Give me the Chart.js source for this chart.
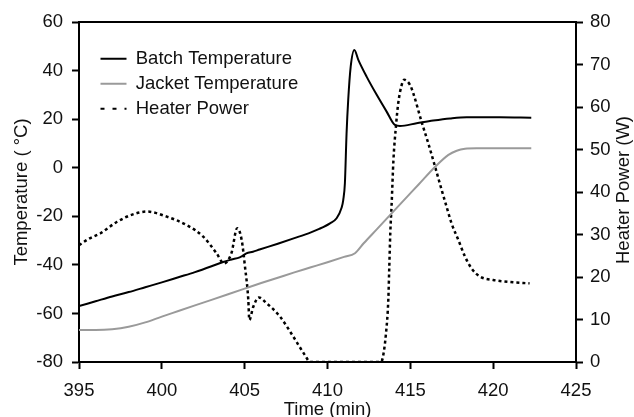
<!DOCTYPE html>
<html>
<head>
<meta charset="utf-8">
<script src="https://cdn.jsdelivr.net/npm/chart.js@4.4.0/dist/chart.umd.min.js"></script>
<style>
html, body { margin: 0; padding: 0; background: #fff; }
</style>
</head>
<body>
<canvas id="myChart" width="634" height="417"></canvas>
<script>
// Batch temperature (left axis, °C)
const batchTime = [395, 396, 397, 398, 399, 400, 401, 402, 403, 403.7, 404.2, 404.7, 404.9, 405.1, 405.5, 405.9,
  407, 408, 409, 409.5, 410.15, 410.55, 410.85, 410.95, 411.05, 411.15, 411.25, 411.4, 411.62, 411.86,
  412.36, 412.97, 413.57, 414.07, 414.37, 415.38, 416.38, 417.4, 418.4, 420.4, 422.3];
const batchTemp = [-57, -55, -53, -51.2, -49.2, -47.2, -45.1, -43, -40.6, -38.8, -37.8, -36.9, -36.2, -35.3, -34.6, -33.7,
  -31.3, -29, -26.6, -25.2, -22.9, -20.8, -16.5, -13.3, -6.4, 14, 27.9, 41.6, 48.5, 44.4,
  37.5, 30, 23.1, 17.6, 17.2, 18.3, 19.4, 20.3, 20.8, 20.8, 20.6];

// Jacket temperature (left axis, °C)
const jacketTime = [395, 396, 397, 398, 399, 400, 401, 402, 403, 404, 405, 406, 407, 408, 409, 410, 411, 411.66,
  412.2, 413, 413.8, 414.8, 415.5, 416.5, 417.3, 417.8, 418.3, 419, 422.3];
const jacketTemp = [-66.8, -66.8, -66.5, -65.5, -63.7, -61.3, -59, -56.7, -54.4, -52.1, -49.8, -47.5, -45.3, -43.1, -41, -38.9, -36.7, -35.2,
  -31, -25.2, -19.3, -12, -6.9, 0.4, 5.3, 7, 7.8, 8, 8];

// Heater power (right axis, W)
const heaterTime = [395, 395.6, 396.3, 397.3, 398.3, 399.1, 400.3, 401.5, 402.5, 403.3, 403.75, 404.2, 404.55, 404.82,
  405.02, 405.22, 405.28, 405.52, 405.85, 406.33, 407.13, 407.93, 408.64, 408.95, 413.2, 413.33, 413.53, 413.67,
  413.73, 413.79, 413.87, 413.98, 414.13, 414.27, 414.48, 414.63, 414.98, 415.18, 415.68, 416.08, 416.49, 416.89,
  417.19, 417.49, 417.9, 418.3, 418.7, 419.2, 420.0, 421.2, 422.2];
const heaterPower = [27.5, 29, 30.3, 33, 34.8, 35.4, 34.2, 32.2, 29.5, 25.6, 23.2, 25.6, 31.5, 28.7,
  22.4, 14.6, 9.9, 13, 15.2, 13.8, 10.7, 6, 1.6, 0, 0, 0.9, 6.7, 14.6,
  22.4, 30.3, 37, 47.5, 55.4, 60.9, 65.2, 66.4, 65.2, 63.2, 56.5, 51.5, 46, 40.5,
  36.5, 32.6, 28.7, 24.8, 22, 20.1, 19.3, 18.75, 18.5];

const seriesNames = ['Batch Temperature', 'Jacket Temperature', 'Heater Power'];
const xTitle = 'Time (min)';
const yTitle = 'Temperature ( °C)';
const y1Title = 'Heater Power (W)';

const FONT = { family: "'Liberation Sans', Arial, sans-serif", size: 18.5 };
const INK = '#111';

function pts(xs, ys) {
  return xs.map((x, i) => ({ x: x, y: ys[i] }));
}

// put the built-in legend inside the plot, a bit under the top frame
// (a chartArea legend gets its top reset to 0, so set it absolutely)
const legendShift = {
  id: 'legendShift',
  afterLayout(chart) {
    const a = chart.chartArea;
    if (chart.legend) {
      chart.legend.left = a.left + 15;
      chart.legend.top = a.top + 21;
    }
  }
};

// right axis title reads bottom-to-top like the left one
const rightTitle = {
  id: 'rightTitle',
  afterDraw(chart) {
    const s = chart.scales.y1;
    const a = chart.chartArea;
    const ctx = chart.ctx;
    ctx.save();
    ctx.translate(s.right - 10.5, (a.top + a.bottom) / 2 - 2);
    ctx.rotate(-Math.PI / 2);
    ctx.font = FONT.size + 'px ' + FONT.family;
    ctx.fillStyle = INK;
    ctx.textAlign = 'center';
    ctx.textBaseline = 'middle';
    ctx.fillText(y1Title, 0, 0);
    ctx.restore();
  }
};

const tickGrid = { drawOnChartArea: false, tickLength: 7, tickWidth: 2, tickColor: '#000', color: '#000' };
const frame = { color: '#000', width: 2 };

const ctx = document.getElementById('myChart').getContext('2d');
const myChart = new Chart(ctx, {
  type: 'line',
  data: {
    datasets: [{
      label: seriesNames[0],
      data: pts(batchTime, batchTemp),
      borderColor: '#000',
      backgroundColor: '#000',
      borderWidth: 2,
      pointRadius: 0,
      fill: false,
      cubicInterpolationMode: 'monotone',
      xAxisID: 'x',
      yAxisID: 'y'
    }, {
      label: seriesNames[1],
      data: pts(jacketTime, jacketTemp),
      borderColor: '#9a9a9a',
      backgroundColor: '#9a9a9a',
      borderWidth: 2,
      pointRadius: 0,
      fill: false,
      cubicInterpolationMode: 'monotone',
      xAxisID: 'x',
      yAxisID: 'y'
    }, {
      label: seriesNames[2],
      data: pts(heaterTime, heaterPower),
      borderColor: '#000',
      backgroundColor: '#000',
      borderWidth: 2.5,
      borderDash: [3, 3],
      pointRadius: 0,
      fill: false,
      cubicInterpolationMode: 'monotone',
      xAxisID: 'x',
      yAxisID: 'y1'
    }]
  },
  options: {
    responsive: false,
    animation: false,
    layout: { padding: { top: 22, left: 0, right: 0, bottom: 0 } },
    plugins: {
      tooltip: { enabled: false },
      legend: {
        position: 'chartArea',
        align: 'start',
        labels: {
          usePointStyle: true,
          pointStyle: 'line',
          pointStyleWidth: 26,
          padding: 6.5,
          color: INK,
          font: FONT,
          generateLabels: function(chart) {
            const items = Chart.defaults.plugins.legend.labels.generateLabels(chart);
            return items.map(item => {
              const ds = chart.data.datasets[item.datasetIndex];
              item.strokeStyle = ds.borderColor;
              item.lineWidth = 2;
              item.lineDash = ds.borderDash ? [4, 8] : [];
              return item;
            });
          }
        }
      }
    },
    scales: {
      x: {
        type: 'linear',
        position: 'bottom',
        min: 395,
        max: 425,
        ticks: { stepSize: 5, padding: 11, color: INK, font: FONT },
        grid: tickGrid,
        border: frame,
        title: { display: true, text: xTitle, color: INK, font: FONT, padding: { top: 0, bottom: -4 } },
        afterFit: s => { s.height = 55; }
      },
      xTop: {
        type: 'linear',
        position: 'top',
        min: 395,
        max: 425,
        ticks: { display: false },
        grid: { drawOnChartArea: false, drawTicks: false },
        border: frame,
        afterFit: s => { s.height = 0; }
      },
      y: {
        type: 'linear',
        position: 'left',
        min: -80,
        max: 60,
        ticks: { stepSize: 20, padding: 9, color: INK, font: FONT },
        grid: tickGrid,
        border: frame,
        title: { display: true, text: yTitle, color: INK, font: FONT, padding: { top: 11, bottom: 0 } },
        afterFit: s => { s.width = 79; }
      },
      y1: {
        type: 'linear',
        position: 'right',
        min: 0,
        max: 80,
        ticks: { stepSize: 10, padding: 7, color: INK, font: FONT },
        grid: tickGrid,
        border: frame,
        afterFit: s => { s.width = 58; }
      }
    }
  },
  plugins: [legendShift, rightTitle]
});
</script>
</body>
</html>
